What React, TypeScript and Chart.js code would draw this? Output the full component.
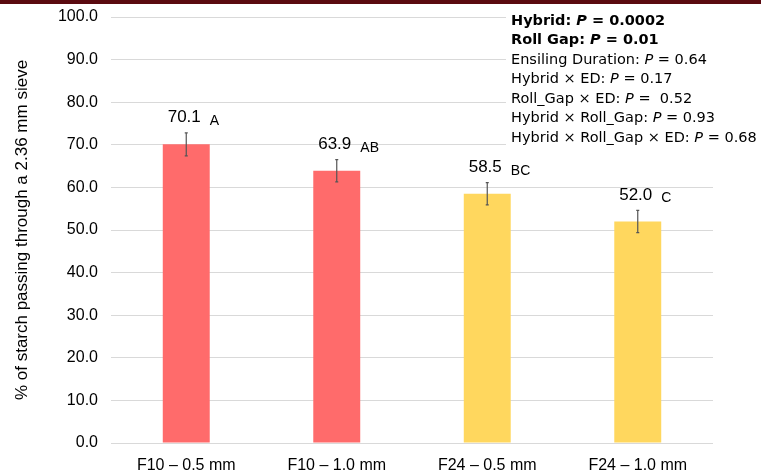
import React, { useEffect, useRef } from "react";
import { Chart, registerables } from "chart.js";

Chart.register(...registerables);

const categories = ["F10 – 0.5 mm", "F10 – 1.0 mm", "F24 – 0.5 mm", "F24 – 1.0 mm"];
const values = [70.1, 63.9, 58.5, 52.0];
const errors = [2.7, 2.6, 2.6, 2.6];
const letters = ["A", "AB", "BC", "C"];
const barColors = ["#FF6B6B", "#FF6B6B", "#FFD75E", "#FFD75E"];
const yTitle = "% of starch passing through a 2.36 mm sieve";
const statLabels = [
  "Hybrid: ",
  "Roll Gap: ",
  "Ensiling Duration: ",
  "Hybrid × ED: ",
  "Roll_Gap × ED: ",
  "Hybrid × Roll_Gap: ",
  "Hybrid × Roll_Gap × ED: ",
];
const statValues = [" = 0.0002", " = 0.01", " = 0.64", " = 0.17", " =  0.52", " = 0.93", " = 0.68"];
const statBold = [true, true, false, false, false, false, false];

const SANS = '"Liberation Sans", Arial, sans-serif';
const STAT_FONT = '"DejaVu Sans", sans-serif';

const overlayPlugin = {
  id: "overlay",
  beforeDraw(chart: any) {
    const ctx = chart.ctx;
    ctx.save();
    ctx.fillStyle = "#ffffff";
    ctx.fillRect(0, 0, chart.width, chart.height);
    ctx.restore();
  },
  afterDatasetsDraw(chart: any) {
    const ctx = chart.ctx;
    const meta = chart.getDatasetMeta(0);
    const yScale = chart.scales.y;
    ctx.save();
    meta.data.forEach((bar: any, i: number) => {
      const x = bar.x;
      const yTop = yScale.getPixelForValue(values[i] + errors[i]);
      const yBot = yScale.getPixelForValue(values[i] - errors[i]);
      ctx.strokeStyle = "#555555";
      ctx.lineWidth = 1.2;
      ctx.beginPath();
      ctx.moveTo(x, yTop);
      ctx.lineTo(x, yBot);
      ctx.moveTo(x - 1.5, yTop);
      ctx.lineTo(x + 1.5, yTop);
      ctx.moveTo(x - 1.5, yBot);
      ctx.lineTo(x + 1.5, yBot);
      ctx.stroke();
      // value label
      ctx.fillStyle = "#000";
      ctx.font = "17px " + SANS;
      ctx.textAlign = "center";
      ctx.textBaseline = "bottom";
      const txt = values[i].toFixed(1);
      const vx = x - 2;
      const vy = yTop - 7;
      ctx.fillText(txt, vx, vy);
      const w = ctx.measureText(txt).width;
      ctx.font = "14px " + SANS;
      ctx.textAlign = "left";
      ctx.fillText(letters[i], vx + w / 2 + 9, vy + 2);
    });
    ctx.restore();
  },
  afterDraw(chart: any) {
    const ctx = chart.ctx;
    ctx.save();
    ctx.fillStyle = "#ffffff";
    ctx.fillRect(506, 5, chart.width - 506, 146);
    ctx.fillStyle = "#5A0A10";
    ctx.fillRect(0, 0, chart.width, 4);
    ctx.fillStyle = "#000";
    ctx.textBaseline = "middle";
    ctx.textAlign = "left";
    const size = 14.5;
    statLabels.forEach((lab, i) => {
      const y = 21 + i * 19.5;
      let x = 511;
      const b = statBold[i] ? "bold " : "";
      ctx.font = b + size + "px " + STAT_FONT;
      ctx.fillText(lab, x, y);
      x += ctx.measureText(lab).width;
      ctx.font = "italic " + b + size + "px " + STAT_FONT;
      ctx.fillText("P", x, y);
      x += ctx.measureText("P").width;
      ctx.font = b + size + "px " + STAT_FONT;
      ctx.fillText(statValues[i], x, y);
    });
    ctx.restore();
  },
};

export default function App() {
  const ref = useRef<HTMLCanvasElement>(null);
  useEffect(() => {
    document.body.style.margin = "0";
    const chart = new Chart(ref.current as HTMLCanvasElement, {
      type: "bar",
      data: {
        labels: categories,
        datasets: [
          {
            data: values,
            backgroundColor: barColors,
            borderWidth: 0,
            barPercentage: 0.312,
            categoryPercentage: 1,
          },
        ],
      },
      plugins: [overlayPlugin],
      options: {
        animation: false,
        responsive: false,
        devicePixelRatio: 1,
        layout: { padding: { top: 17, right: 48, left: 0, bottom: 0 } },
        plugins: { legend: { display: false }, tooltip: { enabled: false } },
        scales: {
          x: {
            grid: { display: false },
            border: { display: false },
            ticks: { color: "#000", font: { family: SANS, size: 16 }, padding: 5 },
            afterFit(scale: any) {
              scale.height = 29;
              scale.paddingLeft = 0;
              scale.paddingRight = 0;
            },
          },
          y: {
            min: 0,
            max: 100,
            grid: { color: "#D9D9D9", lineWidth: 1, drawTicks: false },
            border: { display: false },
            ticks: {
              stepSize: 10,
              color: "#000",
              font: { family: SANS, size: 16 },
              padding: 13,
              callback: (v: any) => Number(v).toFixed(1),
            },
            title: {
              display: true,
              text: yTitle,
              color: "#000",
              font: { family: SANS, size: 17 },
              padding: { top: 12, bottom: 0 },
            },
            afterFit(scale: any) {
              scale.width = 111;
              scale.paddingTop = 0;
              scale.paddingBottom = 0;
            },
          },
        },
      },
    });
    return () => chart.destroy();
  }, []);
  return (
    <div style={{ width: 761, height: 472 }}>
      <canvas ref={ref} width={761} height={472} style={{ display: "block" }} />
    </div>
  );
}
